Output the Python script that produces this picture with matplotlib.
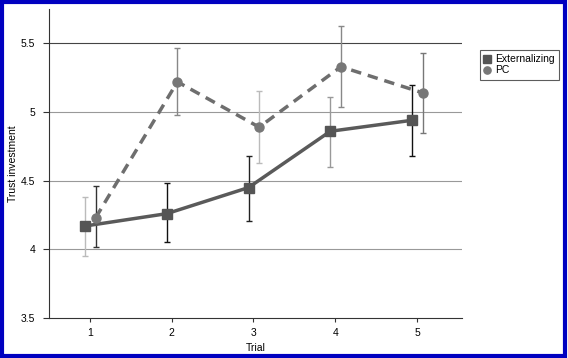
import numpy as np
import matplotlib
matplotlib.use('Agg')
import matplotlib.pyplot as plt
from matplotlib.patches import Rectangle

plt.rcParams['font.family'] = ['Liberation Sans', 'DejaVu Sans']

# data
trials = [1, 2, 3, 4, 5]
ext_mean = [4.17, 4.26, 4.45, 4.86, 4.94]
ext_hi = [4.38, 4.48, 4.68, 5.11, 5.20]
ext_lo = [3.95, 4.05, 4.21, 4.60, 4.68]
pc_mean = [4.23, 5.22, 4.89, 5.33, 5.14]
pc_hi = [4.46, 5.47, 5.15, 5.63, 5.43]
pc_lo = [4.02, 4.98, 4.63, 5.04, 4.85]
ext_err_col = ['#bbbbbb', '#111111', '#222222', '#999999', '#111111']
pc_err_col = ['#333333', '#888888', '#bbbbbb', '#888888', '#777777']

fig = plt.figure(figsize=(5.68, 3.58), dpi=100)
ax = fig.add_axes([0.0863, 0.1117, 0.727, 0.863])

x = np.array(trials, dtype=float)
xe = x - 0.06
xp = x + 0.07

for i in range(len(trials)):
    ax.errorbar(xe[i], ext_mean[i],
                yerr=[[ext_mean[i] - ext_lo[i]], [ext_hi[i] - ext_mean[i]]],
                fmt='none', ecolor=ext_err_col[i], elinewidth=1, capsize=2.2, zorder=2)
    ax.errorbar(xp[i], pc_mean[i],
                yerr=[[pc_mean[i] - pc_lo[i]], [pc_hi[i] - pc_mean[i]]],
                fmt='none', ecolor=pc_err_col[i], elinewidth=1, capsize=2.2, zorder=2)

ax.plot(xe, ext_mean, color='#5a5a5a', lw=2.5, marker='s', ms=7,
        mfc='#555555', mec='#555555', label='Externalizing', zorder=3)
ax.plot(xp, pc_mean, color='#6e6e6e', lw=2.5, ls=(0, (3, 2)), marker='o', ms=6.5,
        mfc='#777777', mec='#777777', label='PC', zorder=3)

ax.set_xlim(0.5, 5.55)
ax.set_ylim(3.5, 5.75)
ax.set_xticks(trials)
ax.set_yticks([3.5, 4, 4.5, 5, 5.5])
ax.set_yticklabels(['3.5', '4', '4.5', '5', '5.5'])
for yv in [4, 4.5, 5]:
    ax.axhline(yv, color='#999999', lw=0.8, zorder=1)
ax.axhline(5.5, color='#444444', lw=0.8, zorder=1)

for s in ['top', 'right']:
    ax.spines[s].set_visible(False)
ax.spines['left'].set_color('#333333')
ax.spines['bottom'].set_color('#333333')
ax.tick_params(axis='x', length=3, width=0.8, color='#333333', labelsize=7.5, pad=4)
ax.tick_params(axis='y', length=4, width=0.8, color='#333333', labelsize=7.5, pad=6)
ax.set_xlabel('Trial', fontsize=7.5, labelpad=4)
ax.set_ylabel('Trust investment', fontsize=7.5)
ax.yaxis.set_label_coords(-0.076, 0.5)

leg = ax.legend(loc='upper left', bbox_to_anchor=(1.043, 0.867), fontsize=7.5,
                frameon=True, fancybox=False, handlelength=0.6, handletextpad=0.5,
                borderpad=0.4, labelspacing=0.1, markerscale=0.8,
                borderaxespad=0)
for h in leg.legend_handles:
    h.set_linestyle('none')
leg.get_frame().set_edgecolor('#333333')
leg.get_frame().set_linewidth(0.8)

fig.patches.append(Rectangle((0.003, 0.005), 0.992, 0.99, transform=fig.transFigure,
                             fill=False, edgecolor='#0000c0', lw=3))

fig.savefig('out.png', dpi=100)
